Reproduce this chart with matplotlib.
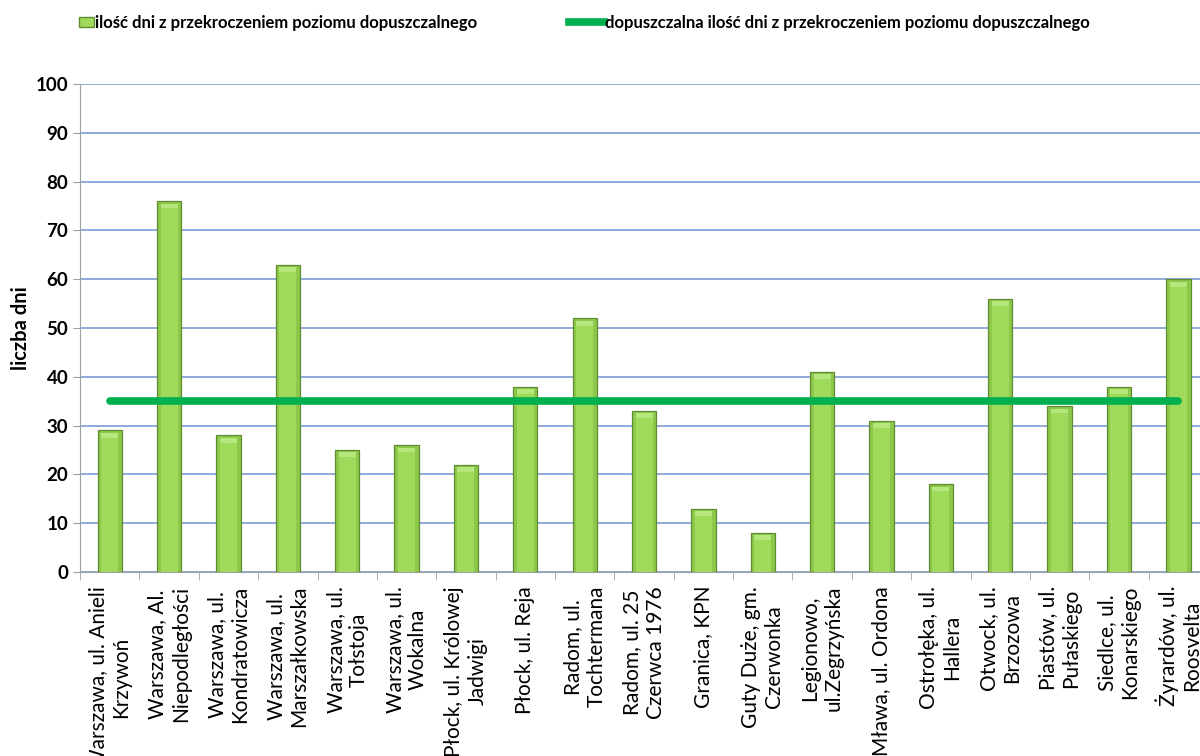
import matplotlib.pyplot as plt
import numpy as np
from matplotlib.lines import Line2D
import matplotlib.patches as mpatches

plt.rcParams['font.family'] = ['Lato', 'DejaVu Sans']

# dane
stations = [
    'Warszawa, ul. Anieli\nKrzywoń', 'Warszawa, Al.\nNiepodległości',
    'Warszawa, ul.\nKondratowicza', 'Warszawa, ul.\nMarszałkowska',
    'Warszawa, ul.\nTołstoja', 'Warszawa, ul.\nWokalna',
    'Płock, ul. Królowej\nJadwigi', 'Płock, ul. Reja',
    'Radom, ul.\nTochtermana', 'Radom, ul. 25\nCzerwca 1976',
    'Granica, KPN', 'Guty Duże, gm.\nCzerwonka',
    'Legionowo,\nul.Zegrzyńska', 'Mława, ul. Ordona',
    'Ostrołęka, ul.\nHallera', 'Otwock, ul.\nBrzozowa',
    'Piastów, ul.\nPułaskiego', 'Siedlce, ul.\nKonarskiego',
    'Żyrardów, ul.\nRoosvelta',
]
days_exceeded = [29, 76, 28, 63, 25, 26, 22, 38, 52, 33, 13, 8, 41, 31, 18, 56, 34, 38, 60]
limit_days = 35

bar_label = 'ilość dni z przekroczeniem poziomu dopuszczalnego'
line_label = 'dopuszczalna ilość dni z przekroczeniem poziomu dopuszczalnego'

fig = plt.figure(figsize=(12, 7.56), dpi=100)
ax = fig.add_axes([0.0667, 0.2434, 0.94, 0.6455])

x = np.arange(len(stations))
w = 0.41
vals = np.array(days_exceeded)
ax.bar(x, vals, w, color='#8DC84A', edgecolor='#5F8C31', linewidth=0.9, zorder=3)
# jaśniejszy środek słupka (efekt wypukłości)
ax.bar(x, vals - 0.5, w * 0.7, color='#9FDA5A', linewidth=0, zorder=4)
ax.bar(x, np.full(len(x), 1.0), w * 0.7, bottom=vals - 1.5, color='#B6E77C',
       linewidth=0, zorder=4)
ax.plot([x[0], x[-1]], [limit_days, limit_days], color='#00B050', lw=5.5,
        solid_capstyle='round', zorder=5)

ax.set_xlim(-0.5, len(stations) - 0.5)
ax.set_ylim(0, 100)
ax.set_yticks(range(0, 101, 10))
ax.yaxis.grid(True, color='#8EA9DB', lw=1.4, zorder=0)
ax.set_axisbelow(True)

ax.set_xticks(x)
ax.set_xticklabels(stations, rotation=90, fontsize=15, multialignment='center',
                   linespacing=1.2)
ax.tick_params(axis='x', which='major', length=0, pad=10)
ax.set_xticks(np.arange(-0.5, len(stations), 1), minor=True)
ax.tick_params(axis='x', which='minor', length=6, color='#A0A0A0', direction='out')
ax.tick_params(axis='y', length=5, color='#A0A0A0', labelsize=13.5)
for t in ax.get_yticklabels():
    t.set_fontweight('bold')

for s in ['top', 'right']:
    ax.spines[s].set_visible(False)
for s in ['left', 'bottom']:
    ax.spines[s].set_color('#A0A0A0')

ax.set_ylabel('liczba dni', fontsize=14.5, fontweight='bold', labelpad=3)

# legenda
h1 = mpatches.Patch(facecolor='#9FDA5A', edgecolor='#5F8C31')
h2 = Line2D([0], [0], color='#00B050', lw=5.5)
fig.legend([h1], [bar_label], loc='upper left', bbox_to_anchor=(0.053, 1.0),
           frameon=False, prop={'weight': 'bold', 'size': 12},
           handlelength=0.9, handletextpad=0.1, handleheight=0.5)
fig.legend([h2], [line_label], loc='upper left', bbox_to_anchor=(0.462, 1.0),
           frameon=False, prop={'weight': 'bold', 'size': 12},
           handlelength=2.1, handletextpad=0.05)

fig.savefig('out.png', dpi=100)
